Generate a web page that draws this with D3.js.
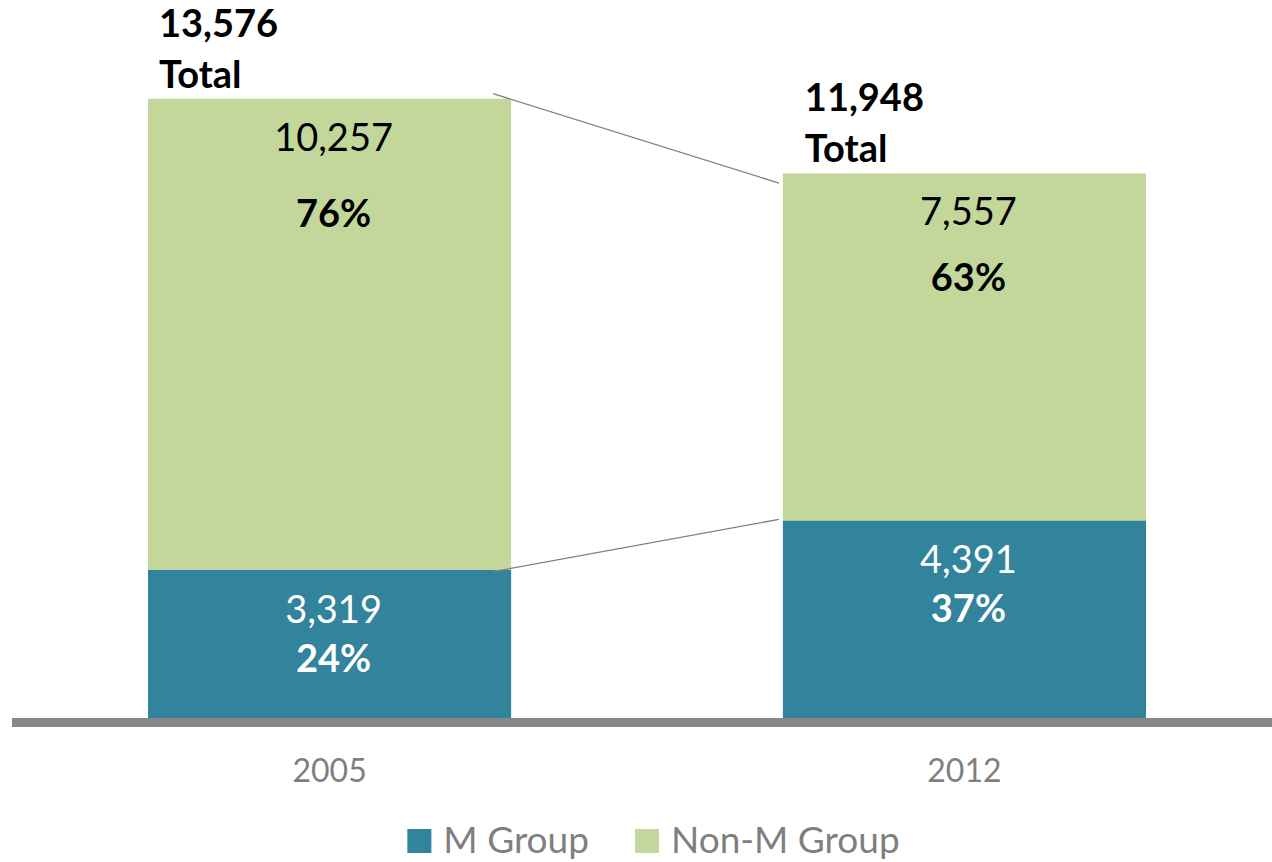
<!DOCTYPE html>
<html>
<head>
<meta charset="utf-8">
<script src="https://cdn.jsdelivr.net/npm/d3@7/dist/d3.min.js"></script>
<style>
  html, body { margin: 0; padding: 0; background: #fff; }
  svg { display: block; font-family: Lato, "Open Sans", sans-serif; }
</style>
</head>
<body>
<svg id="chart" width="1272" height="862"></svg>
<script>
// ---- data ----
const years = ["2005", "2012"];
const mGroup = [3319, 4391];
const nonMGroup = [10257, 7557];
const totals = [13576, 11948];
const mPct = ["24%", "37%"];
const nonMPct = ["76%", "63%"];
const seriesNames = ["M Group", "Non-M Group"];

// ---- layout / style ----
const colors = { "M Group": "#31849b", "Non-M Group": "#c4d79b" };
const W = 1272, H = 862;
const svg = d3.select("#chart");

const rows = years.map((y, i) => ({ year: y, "M Group": mGroup[i], "Non-M Group": nonMGroup[i], total: totals[i], mPct: mPct[i], nPct: nonMPct[i] }));

const x = d3.scaleBand().domain(years).range([148, 1146]).paddingInner(0.428).paddingOuter(0);
const y = d3.scaleLinear().domain([0, d3.max(totals)]).range([722, 98.7]);

const stack = d3.stack().keys(seriesNames);
const stacked = stack(rows);

// bars
const g = svg.append("g");
g.selectAll("g.series").data(stacked).join("g")
  .attr("class", "series")
  .attr("fill", d => colors[d.key])
  .selectAll("rect").data(d => d).join("rect")
  .attr("x", d => x(d.data.year))
  .attr("width", x.bandwidth())
  .attr("y", d => y(d[1]))
  .attr("height", d => y(d[0]) - y(d[1]));

// series (connector) lines
const bw = x.bandwidth();
const x1R = x(years[0]) + bw, x2L = x(years[1]);
const connectors = [
  { x1: x1R - 18, y1: y(totals[0]) - 5, x2: x2L - 4, y2: y(totals[1]) + 9.6 },
  { x1: x1R - 18, y1: y(mGroup[0]) + 2, x2: x2L - 4, y2: y(mGroup[1]) - 1 }
];
svg.append("g").selectAll("line").data(connectors).join("line")
  .attr("x1", d => d.x1).attr("y1", d => d.y1)
  .attr("x2", d => d.x2).attr("y2", d => d.y2)
  .attr("stroke", "#7f7f7f").attr("stroke-width", 1.3);

// baseline
svg.append("line")
  .attr("x1", 12).attr("x2", W)
  .attr("y1", 722.5).attr("y2", 722.5)
  .attr("stroke", "#878787").attr("stroke-width", 9);

// x axis labels
const xAxis = d3.axisBottom(x).tickSize(0).tickPadding(0);
const ax = svg.append("g").call(xAxis);
ax.select(".domain").remove();
ax.selectAll("text")
  .attr("y", 782).attr("dy", 0)
  .attr("fill", "#7f7f7f")
  .style("font-family", "Lato, sans-serif")
  .style("font-size", "32px");

// segment labels
const fmt = d3.format(",");
const greenPctGap = [76, 66];
const labelShift = 4;
const labels = svg.append("g").attr("text-anchor", "middle").style("font-size", "38px");
rows.forEach((r, i) => {
  const cx = x(r.year) + bw / 2 + labelShift;
  const nTop = y(r.total);
  const mTop = y(r["M Group"]);
  labels.append("text").attr("x", cx).attr("y", nTop + 52).attr("fill", "#000").text(fmt(r["Non-M Group"]));
  labels.append("text").attr("x", cx).attr("y", nTop + 52 + greenPctGap[i]).attr("fill", "#000").attr("font-weight", 700).text(r.nPct);
  labels.append("text").attr("x", cx).attr("y", mTop + 53).attr("fill", "#fff").text(fmt(r["M Group"]));
  labels.append("text").attr("x", cx).attr("y", mTop + 102).attr("fill", "#fff").attr("font-weight", 700).text(r.mPct);
});

// total labels
const totalOffsetX = [11, 22];
const tg = svg.append("g").style("font-size", "38px").attr("font-weight", 700).attr("fill", "#000");
rows.forEach((r, i) => {
  const lx = x(r.year) + totalOffsetX[i];
  const by = y(r.total) - 11;
  tg.append("text").attr("x", lx).attr("y", by - 51).text(fmt(r.total));
  tg.append("text").attr("x", lx).attr("y", by).text("Total");
});

// legend
const lg = svg.append("g").style("font-size", "37px");
let cursor = 0;
seriesNames.forEach((name, i) => {
  const it = lg.append("g");
  it.append("rect").attr("x", 0).attr("y", 829).attr("width", 24).attr("height", 24).attr("fill", colors[name]);
  const t = it.append("text").attr("x", 36).attr("y", 853).attr("fill", "#7f7f7f").text(name);
  const w = 36 + t.node().getComputedTextLength();
  it.attr("transform", `translate(${cursor},0)`);
  cursor += w + (i < seriesNames.length - 1 ? 46 : 0);
});
lg.attr("transform", `translate(${653.5 - cursor / 2},0)`);
</script>
</body>
</html>
